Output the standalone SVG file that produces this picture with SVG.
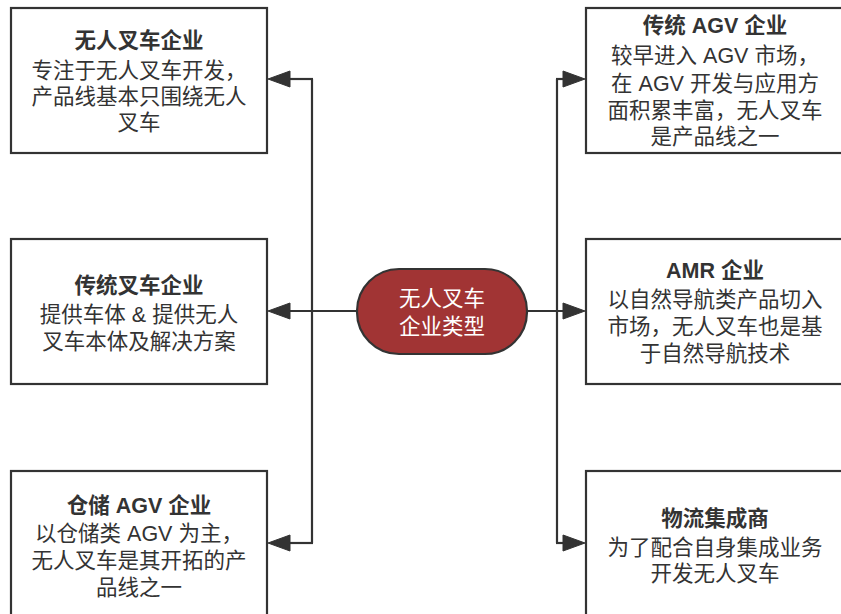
<svg xmlns="http://www.w3.org/2000/svg" width="841" height="614" viewBox="0 0 841 614">
<defs>
<style>
.box{fill:#ffffff;stroke:#333333;stroke-width:2.2}
.t{font-family:"Liberation Sans","Noto Sans CJK SC",sans-serif;font-size:21.5px;fill:#333333;text-anchor:middle}
.b{font-weight:bold}
.c{fill:none;stroke:#333333;stroke-width:2.2}
</style>
</defs>
<rect width="841" height="614" fill="#ffffff"/>
<g id="connectors">
<path class="c" d="M357,311 L286,311"/>
<path class="c" d="M312,543 L312,79"/>
<path class="c" d="M313,79 L286,79"/>
<path class="c" d="M313,543 L286,543"/>
<path class="c" d="M527,311 L567,311"/>
<path class="c" d="M557,543 L557,79"/>
<path class="c" d="M556,79 L567,79"/>
<path class="c" d="M556,543 L567,543"/>
<polygon fill="#333333" stroke="#333333" stroke-width="1" stroke-linejoin="round" points="268,311 290,303 290,319"/>
<polygon fill="#333333" stroke="#333333" stroke-width="1" stroke-linejoin="round" points="268,79 290,71 290,87"/>
<polygon fill="#333333" stroke="#333333" stroke-width="1" stroke-linejoin="round" points="268,543 290,535 290,551"/>
<polygon fill="#333333" stroke="#333333" stroke-width="1" stroke-linejoin="round" points="585,311 563,303 563,319"/>
<polygon fill="#333333" stroke="#333333" stroke-width="1" stroke-linejoin="round" points="585,79 563,71 563,87"/>
<polygon fill="#333333" stroke="#333333" stroke-width="1" stroke-linejoin="round" points="585,543 563,535 563,551"/>
</g>
<g id="center">
<rect x="357" y="269" width="170" height="85" rx="42" ry="42" fill="#a13434" stroke="#333333" stroke-width="2.2"/>
<text class="t" x="442" y="306" style="fill:#ffffff">无人叉车</text>
<text class="t" x="442" y="334" style="fill:#ffffff">企业类型</text>
</g>
<g id="n1">
<rect class="box" x="11" y="8" width="256" height="145"/>
<text class="t b" x="139" y="48">无人叉车企业</text>
<text class="t" x="139" y="78">专注于无人叉车开发，</text>
<text class="t" x="139" y="104">产品线基本只围绕无人</text>
<text class="t" x="139" y="130">叉车</text>
</g>
<g id="n2">
<rect class="box" x="11" y="239" width="256" height="145"/>
<text class="t b" x="139" y="293">传统叉车企业</text>
<text class="t" x="139" y="322">提供车体 &amp; 提供无人</text>
<text class="t" x="139" y="349">叉车本体及解决方案</text>
</g>
<g id="n3">
<rect class="box" x="11" y="471" width="256" height="145"/>
<text class="t b" x="139" y="513">仓储 AGV 企业</text>
<text class="t" x="139" y="541">以仓储类 AGV 为主，</text>
<text class="t" x="139" y="568">无人叉车是其开拓的产</text>
<text class="t" x="139" y="595">品线之一</text>
</g>
<g id="n4">
<rect class="box" x="586" y="8" width="258" height="145"/>
<text class="t b" x="715" y="33">传统 AGV 企业</text>
<text class="t" x="715" y="63">较早进入 AGV 市场，</text>
<text class="t" x="715" y="91">在 AGV 开发与应用方</text>
<text class="t" x="715" y="118">面积累丰富，无人叉车</text>
<text class="t" x="715" y="144">是产品线之一</text>
</g>
<g id="n5">
<rect class="box" x="586" y="239" width="258" height="145"/>
<text class="t b" x="715" y="278">AMR 企业</text>
<text class="t" x="715" y="307">以自然导航类产品切入</text>
<text class="t" x="715" y="334">市场，无人叉车也是基</text>
<text class="t" x="715" y="361">于自然导航技术</text>
</g>
<g id="n6">
<rect class="box" x="586" y="471" width="258" height="145"/>
<text class="t b" x="715" y="526">物流集成商</text>
<text class="t" x="715" y="555">为了配合自身集成业务</text>
<text class="t" x="715" y="581">开发无人叉车</text>
</g>
</svg>
